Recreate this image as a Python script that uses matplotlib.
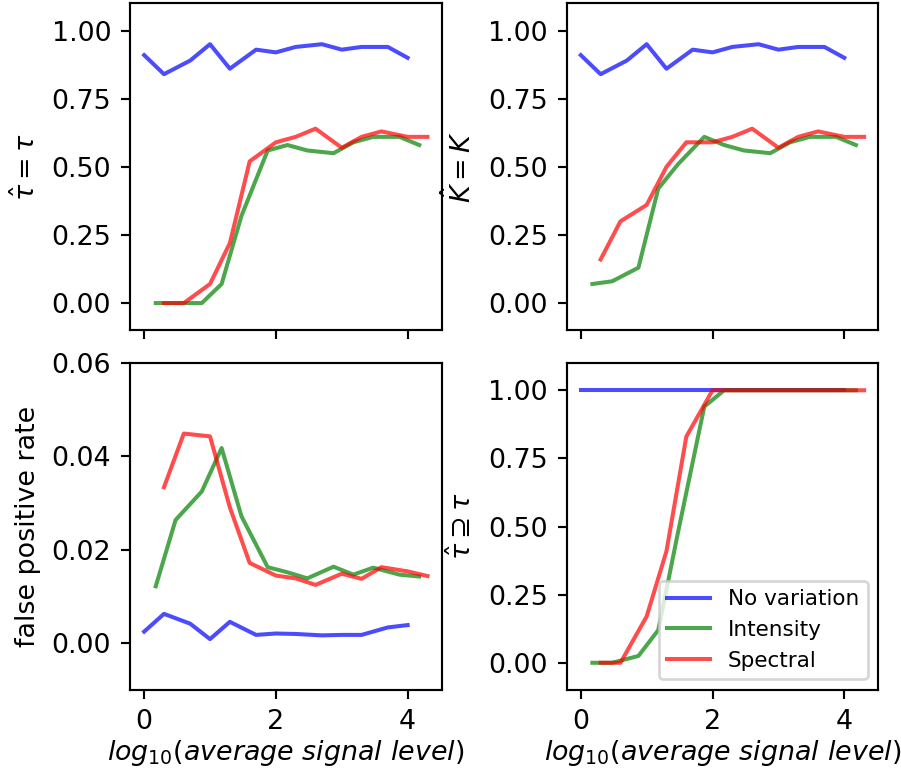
import numpy as np
import matplotlib
matplotlib.use("Agg")
import matplotlib.pyplot as plt

# signal levels for each kind of variation (x axis is log10 of these)
levels_none = [1, 2, 5, 10, 20, 50, 100, 200, 500, 1000, 2000, 5000, 10000]
levels_intensity = [1.5, 3, 7.5, 15, 30, 75, 150, 300, 750, 1500, 3000, 7500, 15000]
levels_spectral = [2, 4, 10, 20, 40, 100, 200, 400, 1000, 2000, 4000, 10000, 20000]

# tau_hat == tau
tau_none = [0.91, 0.84, 0.89, 0.95, 0.86, 0.93, 0.92, 0.94, 0.95, 0.93, 0.94, 0.94, 0.90]
tau_intensity = [0.0, 0.0, 0.0, 0.07, 0.32, 0.56, 0.58, 0.56, 0.55, 0.59, 0.61, 0.61, 0.58]
tau_spectral = [0.0, 0.0, 0.07, 0.22, 0.52, 0.59, 0.61, 0.64, 0.57, 0.61, 0.63, 0.61, 0.61]

# K_hat == K
k_none = [0.91, 0.84, 0.89, 0.95, 0.86, 0.93, 0.92, 0.94, 0.95, 0.93, 0.94, 0.94, 0.90]
k_intensity = [0.07, 0.08, 0.13, 0.42, 0.51, 0.61, 0.58, 0.56, 0.55, 0.59, 0.61, 0.61, 0.58]
k_spectral = [0.16, 0.30, 0.36, 0.50, 0.59, 0.59, 0.61, 0.64, 0.57, 0.61, 0.63, 0.61, 0.61]

# false positive rate
fpr_none = [0.0025, 0.0063, 0.0042, 0.0009, 0.0046, 0.0018, 0.0021, 0.0020, 0.0017,
            0.0018, 0.0018, 0.0034, 0.0039]
fpr_intensity = [0.0122, 0.0264, 0.0325, 0.0418, 0.0272, 0.0163, 0.0152, 0.0139, 0.0164,
                 0.0147, 0.0162, 0.0147, 0.0143]
fpr_spectral = [0.0334, 0.0449, 0.0443, 0.0291, 0.0172, 0.0145, 0.0139, 0.0125, 0.0149,
                0.0138, 0.0163, 0.0154, 0.0144]

# tau_hat superset of tau
sup_none = [1.0] * 13
sup_intensity = [0.0, 0.0, 0.025, 0.12, 0.48, 0.94, 1.0, 1.0, 1.0, 1.0, 1.0, 1.0, 1.0]
sup_spectral = [0.0, 0.0, 0.17, 0.41, 0.83, 1.0, 1.0, 1.0, 1.0, 1.0, 1.0, 1.0, 1.0]

x_none = np.log10(levels_none)
x_int = np.log10(levels_intensity)
x_spec = np.log10(levels_spectral)

DPI = 193.5
fig, axes = plt.subplots(2, 2, sharex=True, figsize=(902 / DPI, 774 / DPI))
fig.subplots_adjust(left=0.1441, right=0.9737, top=0.9957, bottom=0.1085,
                    wspace=0.401, hspace=0.100)

panels = [
    (axes[0, 0], tau_none, tau_intensity, tau_spectral, r"$\hat{\tau} = \tau$", (-0.1, 1.1)),
    (axes[0, 1], k_none, k_intensity, k_spectral, r"$\hat{K} = K$", (-0.1, 1.1)),
    (axes[1, 0], fpr_none, fpr_intensity, fpr_spectral, "false positive rate", (-0.01, 0.06)),
    (axes[1, 1], sup_none, sup_intensity, sup_spectral, r"$\hat{\tau} \supseteq \tau$", (-0.1, 1.1)),
]

for ax, yn, yi, ys, label, lim in panels:
    ax.plot(x_none, yn, color="b", alpha=0.7, label="No variation")
    ax.plot(x_int, yi, color="g", alpha=0.7, label="Intensity")
    ax.plot(x_spec, ys, color="r", alpha=0.7, label="Spectral")
    ax.set_ylabel(label)
    ax.set_ylim(*lim)

axes[0, 0].set_yticks([0, 0.25, 0.5, 0.75, 1.0])
axes[0, 1].set_yticks([0, 0.25, 0.5, 0.75, 1.0])
axes[1, 1].set_yticks([0, 0.25, 0.5, 0.75, 1.0])
axes[1, 0].set_yticks([0, 0.02, 0.04, 0.06])

for ax in axes[1]:
    ax.set_xlabel(r"$log_{10}(average\ signal\ level)$", labelpad=1)

axes[1, 1].legend(loc="lower right", fontsize=8)

plt.savefig("out.png", dpi=DPI)
